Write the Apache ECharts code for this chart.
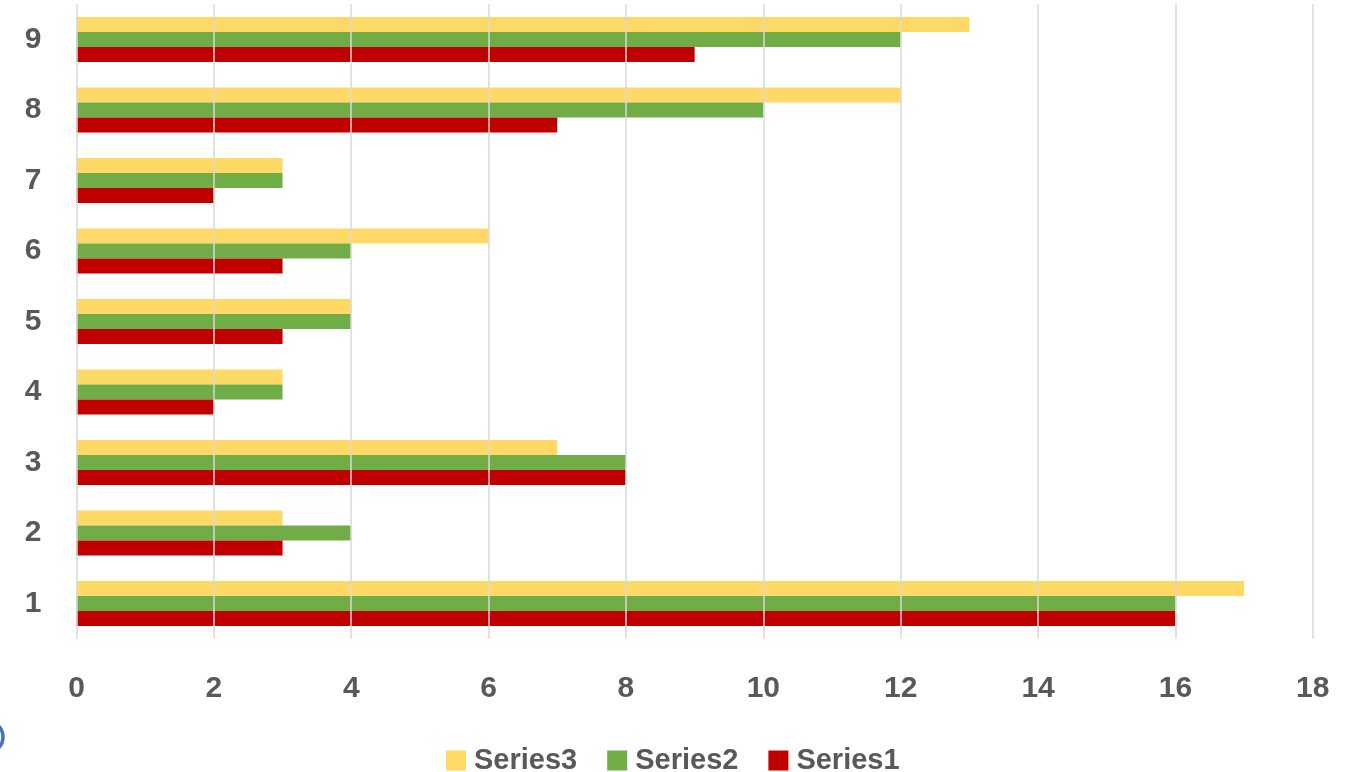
<!DOCTYPE html>
<html>
<head>
<meta charset="utf-8">
<script src="https://cdn.jsdelivr.net/npm/echarts@6/dist/echarts.min.js"></script>
<style>
  html, body { margin: 0; padding: 0; background: #ffffff; }
  #chart { width: 1357px; height: 772px; }
</style>
</head>
<body>
<div id="chart"></div>
<script>
// Category labels and series values
const categories = ['1', '2', '3', '4', '5', '6', '7', '8', '9'];
const series1 = [16, 3, 8, 2, 3, 3, 2, 7, 9];
const series2 = [16, 4, 8, 3, 4, 4, 3, 10, 12];
const series3 = [17, 3, 7, 3, 4, 6, 3, 12, 13];

// Drawn top-to-bottom within each category: Series3, Series2, Series1
const seriesDefs = [
  { name: 'Series3', data: series3, color: '#FFD966' },
  { name: 'Series2', data: series2, color: '#70AD47' },
  { name: 'Series1', data: series1, color: '#C00000' }
];

const textColor = '#595959';
const fontFamily = '"Liberation Sans", Arial, sans-serif';
const fontSize = 30;

const chart = echarts.init(document.getElementById('chart'), null, { renderer: 'canvas' });

chart.setOption({
  animation: false,
  backgroundColor: '#ffffff',
  grid: { left: 76.5, top: 4.3, width: 1236.3, height: 634.5, containLabel: false },
  legend: {
    data: ['Series3', 'Series2', 'Series1'],
    left: 441,
    top: 741,
    itemWidth: 20,
    itemHeight: 20,
    itemGap: 30,
    icon: 'rect',
    textStyle: { color: textColor, fontSize: 29, fontWeight: 'bold', fontFamily: fontFamily, padding: [0, 0, 0, 3] }
  },
  xAxis: {
    type: 'value',
    min: 0,
    max: 18,
    interval: 2,
    z: 10,
    axisLine: { show: false },
    axisTick: { show: false },
    splitLine: { show: true, lineStyle: { color: '#D9D9D9', width: 1.5 } },
    axisLabel: { color: textColor, fontSize: fontSize, fontWeight: 'bold', fontFamily: fontFamily, margin: 35 }
  },
  yAxis: {
    type: 'category',
    data: categories,
    axisLine: { show: false },
    axisTick: { show: false },
    axisLabel: { color: textColor, fontSize: fontSize, fontWeight: 'bold', fontFamily: fontFamily, margin: 35 }
  },
  graphic: [
    {
      type: 'circle',
      shape: { cx: -13, cy: 737, r: 16 },
      style: { fill: 'none', stroke: '#4472C4', lineWidth: 3.5 }
    }
  ],
  series: seriesDefs.map(s => ({
    name: s.name,
    type: 'bar',
    data: s.data,
    barWidth: 15,
    barGap: '0%',
    itemStyle: { color: s.color }
  }))
});
</script>
</body>
</html>
